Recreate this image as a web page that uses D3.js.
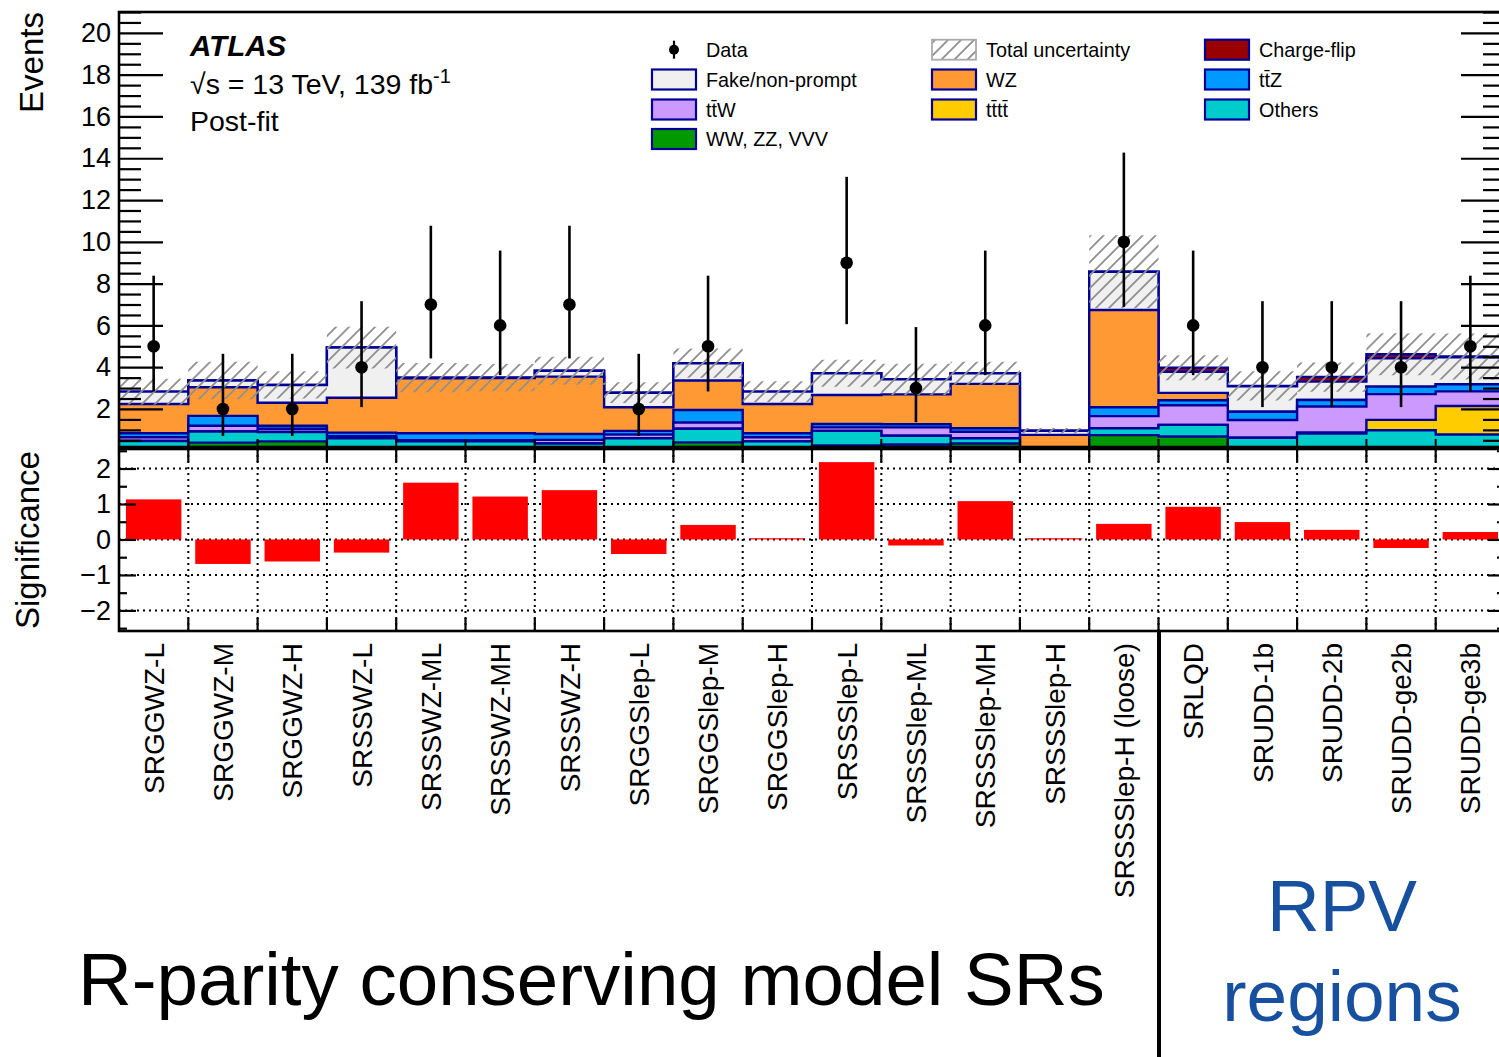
<!DOCTYPE html>
<html><head><meta charset="utf-8">
<script src="https://cdn.jsdelivr.net/npm/d3@7"></script>
<style>
body{margin:0;background:#fff;}
text{font-family:"Liberation Sans",Arial,Helvetica,sans-serif;}
</style></head>
<body>
<svg id="c" width="1499" height="1057"></svg>
<script>
// ---------------- data ----------------
const categories = ["SRGGWZ-L","SRGGWZ-M","SRGGWZ-H","SRSSWZ-L","SRSSWZ-ML","SRSSWZ-MH","SRSSWZ-H",
  "SRGGSlep-L","SRGGSlep-M","SRGGSlep-H","SRSSSlep-L","SRSSSlep-ML","SRSSSlep-MH","SRSSSlep-H",
  "SRSSSlep-H (loose)","SRLQD","SRUDD-1b","SRUDD-2b","SRUDD-ge2b","SRUDD-ge3b"];
// background components (post-fit), stacked bottom -> top
const wwzzvvv   = [0.10,0.39,0.45,0.15,0.10,0.10,0.10,0.15,0.40,0.15,0.25,0.30,0.35,0.02,0.75,0.68,0.05,0.05,0.05,0.03];
const others    = [0.37,0.53,0.45,0.45,0.35,0.35,0.25,0.45,0.65,0.30,0.70,0.42,0.25,0.03,0.33,0.56,0.57,0.77,0.93,0.75];
const tttt      = [0,0,0,0,0,0,0,0,0,0,0,0,0,0,0,0,0,0.06,0.50,1.36];
const ttW       = [0.18,0.28,0.15,0.10,0.05,0.05,0.17,0.18,0.30,0.20,0.17,0.40,0.31,0.02,0.58,0.94,0.85,1.24,1.23,0.70];
const ttZ       = [0.19,0.47,0.15,0.17,0.34,0.34,0.28,0.17,0.60,0.19,0.16,0.15,0.17,0.02,0.42,0.24,0.40,0.31,0.36,0.34];
const wz        = [1.40,1.37,1.10,1.67,2.63,2.64,2.75,1.13,1.41,1.40,1.39,1.43,2.12,0.67,4.66,0.35,0.00,0.00,0.00,0.00];
const fake      = [0.59,0.32,0.85,2.40,0.03,0.02,0.28,0.70,0.83,0.59,1.04,0.72,0.51,0.20,1.83,1.01,1.21,0.88,1.36,1.29];
const chargeFlip= [0,0,0,0,0,0,0,0,0,0,0,0,0,0,0,0.19,0.02,0.22,0.19,0.04];
const totalUnc  = [0.62,0.90,0.65,1.00,0.70,0.65,0.67,0.50,0.70,0.50,0.65,0.75,0.55,0.13,1.75,0.60,0.70,0.70,1.00,1.10];
// observed data with asymmetric (Poisson) error bars
const dataObs   = [5,2,2,4,7,6,7,2,5,null,9,3,6,null,10,6,4,4,4,5];
const dataLow   = [2.84,0.71,0.71,2.09,4.42,3.62,4.42,0.71,2.84,null,6.06,1.37,3.62,null,6.89,3.62,2.09,2.09,2.09,2.84];
const dataHigh  = [8.38,4.64,4.64,7.16,10.77,9.58,10.77,4.64,8.38,null,13.11,5.92,9.58,null,14.27,9.58,7.16,7.16,7.16,8.38];
const significance = [1.13,-0.69,-0.62,-0.37,1.60,1.21,1.39,-0.41,0.41,0.00,2.18,-0.17,1.08,0.00,0.44,0.92,0.49,0.27,-0.24,0.21];
const yTicksMain = [2,4,6,8,10,12,14,16,18,20];
const yTicksSig  = [-2,-1,0,1,2];

const layerKeys   = ["wwzzvvv","others","tttt","ttW","ttZ","wz","fake","chargeFlip"];
const layerColors = ["#009900","#00cccc","#ffcc00","#cc99ff","#0099ff","#ff9933","#f0f0f0","#990000"];
const layerData   = [wwzzvvv,others,tttt,ttW,ttZ,wz,fake,chargeFlip];

// ---------------- layout ----------------
const svg = d3.select("#c");
const X0 = 119, X1 = 1505;
const mainTop = 12, mainBot = 447, sigTop = 449, sigBot = 631;
const NAVY = "#000099";

const xb = d3.scaleBand().domain(categories).range([X0, X1]).paddingInner(0).paddingOuter(0);
const bw = xb.bandwidth();
const y = d3.scaleLinear().domain([0.18, 21.0]).range([mainBot, mainTop]);
const ys = d3.scaleLinear().domain([-2.58, 2.55]).range([sigBot, sigTop]);

const defs = svg.append("defs");
defs.append("clipPath").attr("id","clipMain").append("rect")
  .attr("x",X0).attr("y",mainTop).attr("width",X1-X0).attr("height",mainBot-mainTop);
const pat = defs.append("pattern").attr("id","hatch").attr("patternUnits","userSpaceOnUse")
  .attr("width",13).attr("height",13);
pat.append("path").attr("d","M-2,15 L15,-2 M-2,2 L2,-2 M11,15 L15,11")
  .attr("stroke","#8f8f8f").attr("stroke-width",1.8).attr("fill","none");

// rows for d3.stack
const rows = categories.map((c,i)=>{const r={cat:c}; layerKeys.forEach((k,j)=>r[k]=layerData[j][i]); return r;});
const series = d3.stack().keys(layerKeys)(rows);

function stepPts(vals){ // vals: array of [lo,hi] per bin
  const pts=[];
  categories.forEach((c,i)=>{ const x0=xb(c), x1=x0+bw; pts.push({x:x0,lo:vals[i][0],hi:vals[i][1]}); pts.push({x:x1,lo:vals[i][0],hi:vals[i][1]}); });
  return pts;
}
const area = d3.area().x(d=>d.x).y0(d=>y(d.lo)).y1(d=>y(d.hi));
const lineTop = d3.line().x(d=>d.x).y(d=>y(d.hi));

const gMain = svg.append("g").attr("clip-path","url(#clipMain)");
// draw from the top layer down, like a stacked histogram
for (let j=series.length-1;j>=0;j--){
  const s = series[j];
  const pts = stepPts(s.map(d=>[0.0, d[1]]));
  gMain.append("path").attr("d",area(pts)).attr("fill",layerColors[j]).attr("stroke","none");
  gMain.append("path").attr("d",lineTop(pts)).attr("fill","none").attr("stroke",NAVY).attr("stroke-width",2.4);
}
// uncertainty band
const totals = categories.map((c,i)=>series[series.length-1][i][1]);
gMain.append("path").attr("d",area(stepPts(totals.map((t,i)=>[t-totalUnc[i], t+totalUnc[i]]))))
  .attr("fill","url(#hatch)").attr("stroke","none");

// data
categories.forEach((c,i)=>{
  if(dataObs[i]==null) return;
  const cx = xb(c)+bw/2;
  gMain.append("line").attr("x1",cx).attr("x2",cx).attr("y1",y(dataLow[i])).attr("y2",y(dataHigh[i]))
    .attr("stroke","#000").attr("stroke-width",2.6);
  gMain.append("circle").attr("cx",cx).attr("cy",y(dataObs[i])).attr("r",6.3).attr("fill","#000");
});

// main axes (ticks inside the frame)
const minorMain = d3.range(0.5, 21.01, 0.5).filter(v=>Math.abs(v%2)>1e-6);
const axL = d3.axisLeft(y).tickValues(yTicksMain).tickSizeInner(-44).tickSizeOuter(0).tickPadding(8).tickFormat(d3.format("d"));
const axLm = d3.axisLeft(y).tickValues(minorMain).tickSizeInner(-22).tickSizeOuter(0).tickFormat("");
const axR = d3.axisRight(y).tickValues(yTicksMain).tickSizeInner(-44).tickSizeOuter(0).tickFormat("");
const axRm = d3.axisRight(y).tickValues(minorMain).tickSizeInner(-22).tickSizeOuter(0).tickFormat("");
function styleAxis(g, fs){ g.select(".domain").remove(); g.selectAll(".tick line").attr("stroke","#000").attr("stroke-width",2.2);
  g.selectAll("text").attr("font-size",fs).attr("fill","#000").attr("font-family","Liberation Sans, Arial, sans-serif"); }
svg.append("g").attr("transform",`translate(${X0},0)`).call(axL).call(g=>styleAxis(g,27));
svg.append("g").attr("transform",`translate(${X0},0)`).call(axLm).call(g=>styleAxis(g,27));
svg.append("g").attr("transform",`translate(${X1},0)`).call(axR).call(g=>styleAxis(g,27));
svg.append("g").attr("transform",`translate(${X1},0)`).call(axRm).call(g=>styleAxis(g,27));
// bin-edge ticks at main bottom
const edges = categories.map(c=>xb(c)).concat([X1]);
edges.slice(1,-1).forEach(e=>{
  svg.append("line").attr("x1",e).attr("x2",e).attr("y1",mainBot).attr("y2",mainBot-8).attr("stroke","#000").attr("stroke-width",2);
});
svg.append("rect").attr("x",X0).attr("y",mainTop).attr("width",X1-X0).attr("height",mainBot-mainTop)
  .attr("fill","none").attr("stroke","#000").attr("stroke-width",2.6);

// ---------------- significance panel ----------------
const gS = svg.append("g");
yTicksSig.forEach(v=>{
  gS.append("line").attr("x1",X0).attr("x2",X1).attr("y1",ys(v)).attr("y2",ys(v))
    .attr("stroke","#000").attr("stroke-width",2).attr("stroke-dasharray","2,4");
});
edges.slice(1,-1).forEach(e=>{
  gS.append("line").attr("x1",e).attr("x2",e).attr("y1",sigTop).attr("y2",sigBot)
    .attr("stroke","#000").attr("stroke-width",2).attr("stroke-dasharray","2,4");
});
categories.forEach((c,i)=>{
  const v = significance[i];
  const y0 = ys(0), y1 = ys(v);
  const h = Math.max(1.2, Math.abs(y1-y0));
  gS.append("rect").attr("x",xb(c)+bw*0.1).attr("width",bw*0.8)
    .attr("y", v>=0 ? y0-h : y0).attr("height",h).attr("fill","#ff0000");
});
const minorSig = d3.range(-2.5,2.51,0.5).filter(v=>Math.abs(v-Math.round(v))>1e-6);
const sL = d3.axisLeft(ys).tickValues(yTicksSig).tickSizeInner(-17).tickSizeOuter(0).tickPadding(8).tickFormat(d3.format("d"));
const sLm = d3.axisLeft(ys).tickValues(minorSig).tickSizeInner(-8).tickSizeOuter(0).tickFormat("");
const sR = d3.axisRight(ys).tickValues(yTicksSig).tickSizeInner(-17).tickSizeOuter(0).tickFormat("");
const sRm = d3.axisRight(ys).tickValues(minorSig).tickSizeInner(-8).tickSizeOuter(0).tickFormat("");
svg.append("g").attr("transform",`translate(${X0},0)`).call(sL).call(g=>styleAxis(g,27));
svg.append("g").attr("transform",`translate(${X0},0)`).call(sLm).call(g=>styleAxis(g,27));
svg.append("g").attr("transform",`translate(${X1},0)`).call(sR).call(g=>styleAxis(g,27));
svg.append("g").attr("transform",`translate(${X1},0)`).call(sRm).call(g=>styleAxis(g,27));
edges.slice(1,-1).forEach(e=>{
  svg.append("line").attr("x1",e).attr("x2",e).attr("y1",sigBot).attr("y2",sigBot-13).attr("stroke","#000").attr("stroke-width",2.2);
  svg.append("line").attr("x1",e).attr("x2",e).attr("y1",sigTop).attr("y2",sigTop+13).attr("stroke","#000").attr("stroke-width",2.2);
});
svg.append("rect").attr("x",X0).attr("y",sigTop).attr("width",X1-X0).attr("height",sigBot-sigTop)
  .attr("fill","none").attr("stroke","#000").attr("stroke-width",2.6);

// bin labels
categories.forEach(c=>{
  svg.append("text").attr("transform",`translate(${xb(c)+bw/2},643) rotate(-90)`)
    .attr("text-anchor","end").attr("dy","0.36em").attr("font-size",28).attr("fill","#000").text(c);
});

// axis titles
svg.append("text").attr("transform","translate(43,12) rotate(-90)").attr("text-anchor","end")
  .attr("font-size",33).text("Events");
svg.append("text").attr("transform","translate(39,540) rotate(-90)").attr("text-anchor","middle")
  .attr("font-size",33).text("Significance");

// ATLAS label
svg.append("text").attr("x",190).attr("y",56).attr("font-size",29.5).attr("font-weight","bold").attr("font-style","italic").text("ATLAS");
const t2 = svg.append("text").attr("x",190).attr("y",94).attr("font-size",28.5);
t2.append("tspan").text("\u221As = 13 TeV, 139 fb");
t2.append("tspan").attr("dy",-11).attr("font-size",20).text("-1");
svg.append("text").attr("x",190).attr("y",131).attr("font-size",28.5).text("Post-fit");

// legend
const legend = [
  {col:0,row:0,type:"data",label:"Data"},
  {col:0,row:1,type:"box",color:"#f0f0f0",label:"Fake/non-prompt"},
  {col:0,row:2,type:"box",color:"#cc99ff",label:"tt\u0304W"},
  {col:0,row:3,type:"box",color:"#009900",label:"WW, ZZ, VVV"},
  {col:1,row:0,type:"hatch",label:"Total uncertainty"},
  {col:1,row:1,type:"box",color:"#ff9933",label:"WZ"},
  {col:1,row:2,type:"box",color:"#ffcc00",label:"tt\u0304tt\u0304"},
  {col:2,row:0,type:"box",color:"#990000",label:"Charge-flip"},
  {col:2,row:1,type:"box",color:"#0099ff",label:"tt\u0304Z"},
  {col:2,row:2,type:"box",color:"#00cccc",label:"Others"}
];
const colX = [652, 932, 1205], rowY = [49.7, 79.5, 109.5, 139];
legend.forEach(L=>{
  const bx = colX[L.col], cy = rowY[L.row];
  if(L.type==="data"){
    svg.append("line").attr("x1",bx+22).attr("x2",bx+22).attr("y1",cy-9).attr("y2",cy+9).attr("stroke","#000").attr("stroke-width",2.2);
    svg.append("circle").attr("cx",bx+22).attr("cy",cy).attr("r",5).attr("fill","#000");
  } else if(L.type==="hatch"){
    svg.append("rect").attr("x",bx).attr("y",cy-10).attr("width",44).attr("height",20).attr("fill","url(#hatch)")
      .attr("stroke","#aaaaaa").attr("stroke-width",1.8);
  } else {
    svg.append("rect").attr("x",bx).attr("y",cy-10).attr("width",44).attr("height",20).attr("fill",L.color)
      .attr("stroke",NAVY).attr("stroke-width",2.2);
  }
  svg.append("text").attr("x",bx+54).attr("y",cy).attr("dy","0.36em").attr("font-size",19.8).attr("fill","#000").text(L.label);
});

// region annotations
svg.append("line").attr("x1",1159).attr("x2",1159).attr("y1",sigBot).attr("y2",1057).attr("stroke","#000").attr("stroke-width",4);
svg.append("text").attr("x",78).attr("y",1005).attr("font-size",74.5).attr("fill","#000").text("R-parity conserving model SRs");
svg.append("text").attr("x",1342).attr("y",931).attr("text-anchor","middle").attr("font-size",73).attr("fill","#16509e").text("RPV");
svg.append("text").attr("x",1342).attr("y",1021).attr("text-anchor","middle").attr("font-size",73).attr("fill","#16509e").text("regions");
</script>
</body></html>
